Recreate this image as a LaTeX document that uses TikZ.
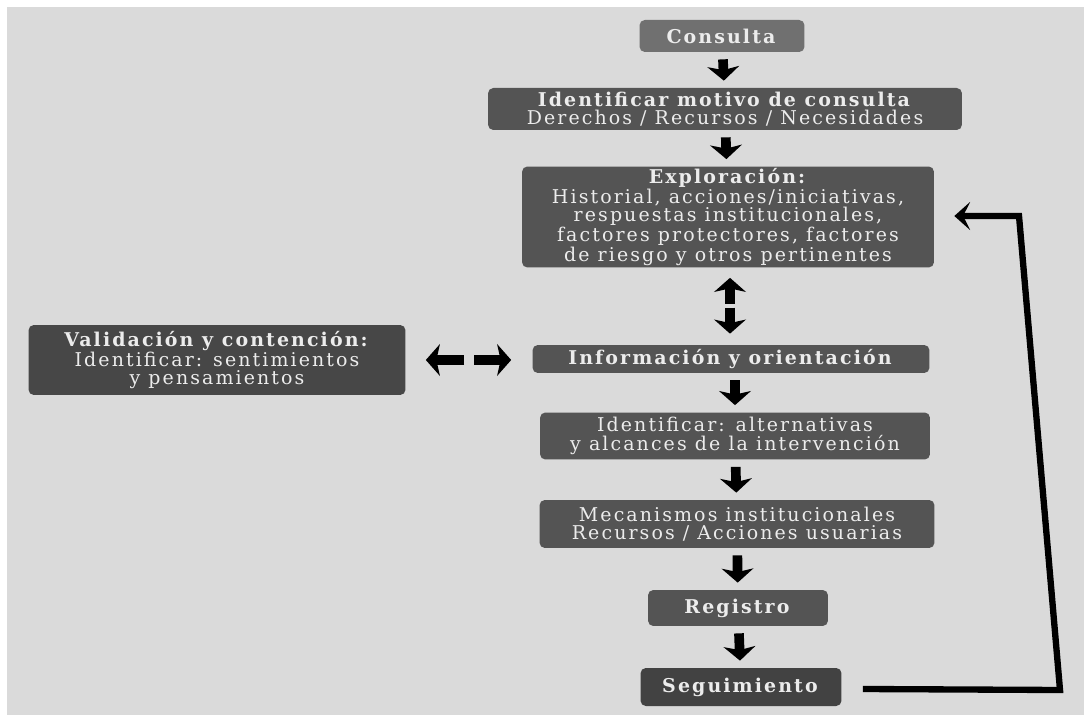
\documentclass[tikz,border=0pt]{standalone}
\usepackage{fontspec}
\setmainfont{DejaVu Serif}[LetterSpace=11]
\usetikzlibrary{arrows.meta,calc}
\definecolor{bgc}{RGB}{218,218,218}
\definecolor{boxc}{RGB}{84,84,84}
\definecolor{boxl}{RGB}{112,112,112}
\definecolor{txt}{RGB}{236,236,236}
\begin{document}
\begin{tikzpicture}[x=0.02cm,y=-0.02cm,
  box/.style={fill=boxc, rounded corners=3pt, text=txt, align=center, inner sep=0pt,
    font=\fontsize{10.8}{10.4}\selectfont},
  blk/.style={line width=5.5pt, black, shorten <=#1, shorten >=#1,
    -{Stealth[length=8pt,width=18pt,inset=2pt]}},
  blk/.default=4,
  loop/.style={line width=3.6pt, black, line join=miter,
    -{Stealth[length=9pt,width=16pt,inset=4pt]}}
]
\useasboundingbox (0,0) rectangle (1084,715);
\fill[white] (0,0) rectangle (1084,715);
\fill[bgc] (7,7) rectangle (1084,715);

\node[box, fill=boxl, minimum width=3.3cm, minimum height=0.64cm] (cons) at (722,36) {\textbf{Consulta}};
\node[box, minimum width=9.48cm, minimum height=0.84cm] (ident) at (725,109)
  {\textbf{Identificar motivo de consulta}\\Derechos / Recursos / Necesidades};
\node[box, minimum width=8.24cm, minimum height=2.02cm] (expl) at (728,217)
  {\textbf{Exploración:}\\Historial, acciones/iniciativas,\\respuestas institucionales,\\factores protectores, factores\\de riesgo y otros pertinentes};
\node[box, minimum width=7.94cm, minimum height=0.56cm] (info) at (731,359)
  {\textbf{Información y orientación}};
\node[box, fill=black!72, minimum width=7.54cm, minimum height=1.40cm] (valid) at (217,360)
  {\textbf{Validación y contención:}\\Identificar: sentimientos\\y pensamientos};
\node[box, minimum width=7.8cm, minimum height=0.94cm] (alt) at (735,436)
  {Identificar: alternativas\\y alcances de la intervención};
\node[box, minimum width=7.9cm, minimum height=0.96cm] (mec) at (737,524)
  {Mecanismos institucionales\\Recursos / Acciones usuarias};
\node[box, minimum width=3.6cm, minimum height=0.72cm] (reg) at (738,608)
  {\textbf{Registro}};
\node[box, fill=black!74, minimum width=4.02cm, minimum height=0.76cm] (seg) at (741,687)
  {\textbf{Seguimiento}};

\draw[blk] (cons) -- (ident);
\draw[blk] (ident) -- (expl);
\draw[blk=0] ($(expl.south)+(2,36)$) -- ($(expl.south)+(2,10)$);
\draw[blk=0] ($(info.north)+(-1,-37)$) -- ($(info.north)+(-1,-11)$);
\draw[blk=0] ($(info.west)+(-68,1)$) -- ($(valid.east)+(20,0)$);
\draw[blk=0] ($(info.west)+(-58,1)$) -- ($(info.west)+(-21,1)$);
\draw[blk] (info.south -| alt.north) -- (alt.north);
\draw[blk] (alt) -- (mec);
\draw[blk] (mec) -- (reg);
\draw[blk] (reg) -- (seg);

\coordinate (c1) at (1060,690);
\coordinate (c2) at (1019,216);
\draw[loop] ($(seg.east)+(21,2)$) -- (c1) -- (c2) -- ($(expl.east)+(20,-1)$);
\end{tikzpicture}
\end{document}
